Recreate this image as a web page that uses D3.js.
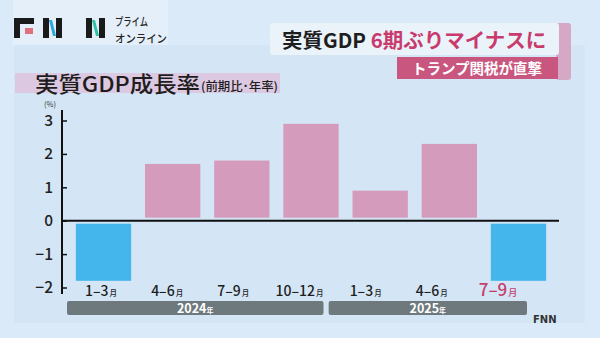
<!DOCTYPE html>
<html><head><meta charset="utf-8">
<script src="https://cdn.jsdelivr.net/npm/d3@7"></script>
<style>
html,body{margin:0;padding:0;background:#dbeaf8;}
svg{display:block;font-family:"Noto Sans CJK JP","Noto Sans",sans-serif;}
</style></head>
<body><svg id="c" width="600" height="338"></svg>
<script>
// ---- data ----
const quarters = ["1-3","4-6","7-9","10-12","1-3","4-6","7-9"];
const values   = [-1.8, 1.7, 1.8, 2.9, 0.9, 2.3, -1.8];
const years    = ["2024","2025"];
const yearSpan = [[0,3],[4,6]];
const yTicks   = [3,2,1,0,-1,-2];

const svg = d3.select("#c");

// background
svg.append("rect").attr("x",0).attr("y",0).attr("width",600).attr("height",338).attr("fill","#dbeaf8");
svg.append("rect").attr("x",13).attr("y",0).attr("width",155).attr("height",45).attr("fill","#e4eff9");
svg.append("rect").attr("x",14).attr("y",45).attr("width",571).attr("height",278).attr("fill","#d4e6f5");

// ---- FNN logo ----
const lg = svg.append("g");
lg.append("rect").attr("x",14).attr("y",18).attr("width",20).attr("height",6).attr("fill","#1a1a1a");
lg.append("rect").attr("x",14).attr("y",18).attr("width",6).attr("height",20).attr("fill","#1a1a1a");
lg.append("rect").attr("x",25).attr("y",28).attr("width",8).attr("height",6).attr("fill","#e0707e");
[[43,"#2aa7df"],[86,"#2ec4a3"]].forEach(([x0,c])=>{
  lg.append("rect").attr("x",x0).attr("y",18).attr("width",6).attr("height",20).attr("fill","#1a1a1a");
  lg.append("rect").attr("x",x0+13).attr("y",18).attr("width",6).attr("height",20).attr("fill","#1a1a1a");
  lg.append("polygon").attr("points",`${x0+6},20 ${x0+9},20 ${x0+13},36 ${x0+10},36`).attr("fill",c);
});
lg.append("text").attr("x",115).attr("y",26).attr("font-size",11).attr("font-weight",500).attr("fill","#222")
  .attr("textLength",33).attr("lengthAdjust","spacingAndGlyphs").text("プライム");
lg.append("text").attr("x",115).attr("y",43).attr("font-size",11).attr("font-weight",500).attr("fill","#222")
  .attr("textLength",52).attr("lengthAdjust","spacingAndGlyphs").text("オンライン");

// ---- headline ----
svg.append("rect").attr("x",556).attr("y",23).attr("width",15).attr("height",57).attr("rx",3).attr("fill","#d5a8c6");
svg.append("rect").attr("x",270).attr("y",23).attr("width",289).attr("height",32).attr("rx",3).attr("fill","#eaf2fa");
svg.append("rect").attr("x",397).attr("y",57).attr("width",161).attr("height",22).attr("fill","#c9567e");
const h1 = svg.append("text").attr("x",282).attr("y",48).attr("font-size",20.5).attr("font-weight",700);
h1.append("tspan").attr("fill","#1e1e1e").text("実質GDP ");
h1.append("tspan").attr("fill","#c93b6c").text("6期ぶりマイナスに");
svg.append("text").attr("x",477).attr("y",74).attr("text-anchor","middle").attr("font-size",14.5).attr("font-weight",700)
  .attr("fill","#ffffff").text("トランプ関税が直撃");

// ---- chart title ----
svg.append("rect").attr("x",15).attr("y",73).attr("width",265).attr("height",20).attr("fill","#dcc9e1");
svg.append("text").attr("x",35).attr("y",92).attr("fill","#1e1e1e")
  .attr("font-size",21.5).attr("font-weight",500)
  .attr("textLength",165).attr("lengthAdjust","spacingAndGlyphs").text("実質GDP成長率");
svg.append("text").attr("x",201).attr("y",91).attr("fill","#1e1e1e")
  .attr("font-size",12).attr("font-weight",500)
  .attr("textLength",77).attr("lengthAdjust","spacingAndGlyphs").text("(前期比･年率)");

// ---- scales ----
const y = d3.scaleLinear().domain([-2,3]).range([287.5,120.5]);
const x = d3.scaleBand().domain(d3.range(quarters.length)).range([62,560]).paddingInner(0.2).paddingOuter(0.2);
const xl = d3.scalePoint().domain(d3.range(quarters.length)).range([101,498]);

// bars
const gap = 3;
svg.append("g").selectAll("rect").data(values).join("rect")
  .attr("x",(d,i)=>x(i))
  .attr("width",x.bandwidth())
  .attr("y",d=> d>=0 ? y(d) : y(0)+gap)
  .attr("height",d=> Math.abs(y(d)-y(0)) - gap)
  .attr("fill",d=> d>=0 ? "#d49bbc" : "#44b6ec");

// zero line
svg.append("line").attr("x1",62).attr("x2",559).attr("y1",y(0)).attr("y2",y(0))
  .attr("stroke","#111").attr("stroke-width",2);

// y axis
const ax = svg.append("g").attr("transform","translate(62,0)")
  .call(d3.axisRight(y).tickValues(yTicks).tickSize(5).tickFormat(""));
ax.select(".domain").remove();
ax.selectAll(".tick line").attr("stroke","#111").attr("stroke-width",1.5);
svg.append("line").attr("x1",62).attr("x2",62).attr("y1",110).attr("y2",294).attr("stroke","#111").attr("stroke-width",2);
svg.append("g").selectAll("text").data(yTicks).join("text")
  .attr("x",53).attr("y",d=>y(d)+5.5).attr("text-anchor","end")
  .attr("font-size",15.5).attr("font-weight",500).attr("fill","#222")
  .text(d=> d<0 ? "−"+Math.abs(d) : d);
svg.append("text").attr("x",50).attr("y",107).attr("text-anchor","middle").attr("font-size",7.5).attr("fill","#333").text("(%)");

// quarter labels
const ql = svg.append("g").selectAll("text").data(quarters).join("text")
  .attr("x",(d,i)=>xl(i)).attr("y",296).attr("text-anchor","middle")
  .attr("font-weight",500)
  .attr("fill",(d,i)=> i===quarters.length-1 ? "#c4406c" : "#1e1e1e")
  .attr("font-size",(d,i)=> i===quarters.length-1 ? 17 : 14);
ql.append("tspan").text(d=>d.replace("-","–"));
ql.append("tspan").attr("font-size",(d,i)=> i===quarters.length-1 ? 9 : 7.5).attr("dx",1).text("月");

// year bars
const ys = [[-34,24],[-37,29]];
const yb = svg.append("g").selectAll("g").data(years).join("g");
yb.append("rect")
  .attr("x",(d,i)=>xl(yearSpan[i][0])+ys[i][0])
  .attr("width",(d,i)=>xl(yearSpan[i][1])+ys[i][1]-(xl(yearSpan[i][0])+ys[i][0]))
  .attr("y",301).attr("height",14).attr("rx",2).attr("fill","#6e797e");
const yt = yb.append("text")
  .attr("x",(d,i)=>(xl(yearSpan[i][0])+ys[i][0] + xl(yearSpan[i][1])+ys[i][1])/2)
  .attr("y",313).attr("text-anchor","middle").attr("fill","#fff").attr("font-weight",700).attr("font-size",12.5);
yt.append("tspan").text(d=>d);
yt.append("tspan").attr("font-size",7).text("年");

// small FNN mark
svg.append("text").attr("x",533).attr("y",323).attr("font-size",10).attr("font-weight",700)
  .attr("fill","#333").attr("font-family","DejaVu Sans").text("FNN");
</script></body></html>
